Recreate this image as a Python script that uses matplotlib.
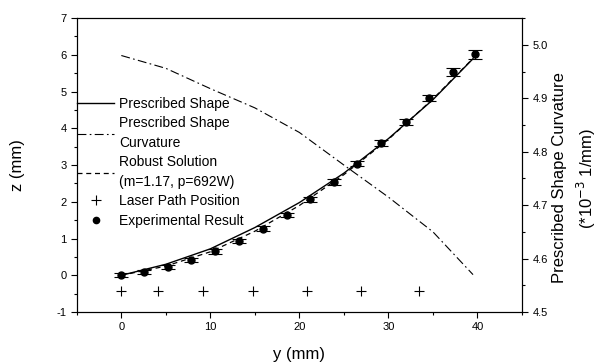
import matplotlib
matplotlib.use("Agg")
import matplotlib.pyplot as plt
from matplotlib.ticker import MultipleLocator, FormatStrFormatter
from matplotlib.lines import Line2D

plt.rcParams['font.family'] = ['Liberation Sans', 'DejaVu Sans']
plt.rcParams['axes.unicode_minus'] = False

# Prescribed shape (solid)
shape_y = [0, 5, 10, 15, 20, 25, 30, 35, 39.4]
shape_z = [0, 0.30, 0.72, 1.30, 1.98, 2.78, 3.72, 4.78, 5.87]

# Robust solution (dashed)
robust_y = [0, 5, 10, 15, 20, 25, 30, 35, 39.85]
robust_z = [0, 0.25, 0.64, 1.20, 1.90, 2.74, 3.70, 4.80, 5.99]

# Prescribed shape curvature (right axis, *1e-3 1/mm)
curv_y = [0, 5, 10, 15, 20, 25, 30, 35, 39.5]
curv_k = [4.98, 4.956, 4.918, 4.882, 4.836, 4.775, 4.715, 4.65, 4.57]

# Laser path positions
laser_y = [0, 4.1, 9.2, 14.8, 20.8, 26.9, 33.4]
laser_z = [-0.44] * 7

# Experimental result
exp_y = [0, 2.5, 5.2, 7.84, 10.57, 13.2, 15.9, 18.56, 21.2, 23.9, 26.5,
         29.2, 31.93, 34.5, 37.2, 39.7]
exp_z = [0, 0.09, 0.23, 0.41, 0.65, 0.93, 1.27, 1.64, 2.07, 2.54, 3.04,
         3.60, 4.18, 4.83, 5.53, 6.01]
exp_err = [0.05, 0.05, 0.05, 0.05, 0.06, 0.06, 0.06, 0.06, 0.07, 0.07, 0.07,
           0.08, 0.08, 0.09, 0.10, 0.12]

fig = plt.figure(figsize=(6.0, 3.62), dpi=100)
ax = fig.add_axes([0.128, 0.138, 0.742, 0.812])
ax2 = ax.twinx()

dashdot = (0, (8, 3, 1.5, 3))
dashed = (0, (4, 3))

ax.plot(shape_y, shape_z, color='black', lw=1.0, ls='-')
ax2.plot(curv_y, curv_k, color='black', lw=0.8, ls=dashdot)
ax.plot(robust_y, robust_z, color='black', lw=0.9, ls=dashed)
ax.plot(laser_y, laser_z, ls='none', marker='+', color='black', ms=7, mew=0.8)
ax.errorbar(exp_y, exp_z, yerr=exp_err, fmt='o', color='black', ms=5,
            ecolor='black', elinewidth=0.8, capsize=5, capthick=0.8)

ax.set_xlim(-5, 45)
ax.set_ylim(-1, 7)
ax2.set_ylim(4.5, 5.05)

ax.set_xticks([0, 10, 20, 30, 40])
ax.xaxis.set_minor_locator(MultipleLocator(5))
ax.yaxis.set_major_locator(MultipleLocator(1))
ax.yaxis.set_minor_locator(MultipleLocator(0.5))
ax2.yaxis.set_major_locator(MultipleLocator(0.1))
ax2.yaxis.set_minor_locator(MultipleLocator(0.05))
ax2.yaxis.set_major_formatter(FormatStrFormatter('%.1f'))

for a in (ax, ax2):
    a.tick_params(which='major', direction='out', length=4, width=0.8, labelsize=8)
    a.tick_params(which='minor', direction='out', length=2.5, width=0.8)
    for s in a.spines.values():
        s.set_linewidth(0.8)
ax.tick_params(top=False, which='both')

ax.set_xlabel('y (mm)', fontsize=12)
ax.xaxis.set_label_coords(0.5, -0.118)
ax.set_ylabel('z (mm)', fontsize=12)
ax.yaxis.set_label_coords(-0.117, 0.5)
ax2.set_ylabel('Prescribed Shape Curvature\n(*10$^{-3}$ 1/mm)', fontsize=12,
               linespacing=1.4)
ax2.yaxis.set_label_coords(1.068, 0.456)

handles = [
    Line2D([], [], color='black', lw=1.0, ls='-'),
    Line2D([], [], color='black', lw=0.8, ls=dashdot),
    Line2D([], [], color='black', lw=0.9, ls=dashed),
    Line2D([], [], color='black', ls='none', marker='+', ms=7, mew=0.8),
    Line2D([], [], color='black', ls='none', marker='o', ms=4.5),
]
labels = ['Prescribed Shape', 'Prescribed Shape\nCurvature',
          'Robust Solution\n(m=1.17, p=692W)', 'Laser Path Position',
          'Experimental Result']
leg = ax2.legend(handles, labels, loc='upper left', bbox_to_anchor=(0.0, 0.733),
                 frameon=False, fontsize=10, borderpad=0, borderaxespad=0,
                 handlelength=2.7, handletextpad=0.35, labelspacing=0.4)
for t in leg.get_texts():
    t.set_linespacing(1.5)

fig.savefig('out.png', dpi=100)
